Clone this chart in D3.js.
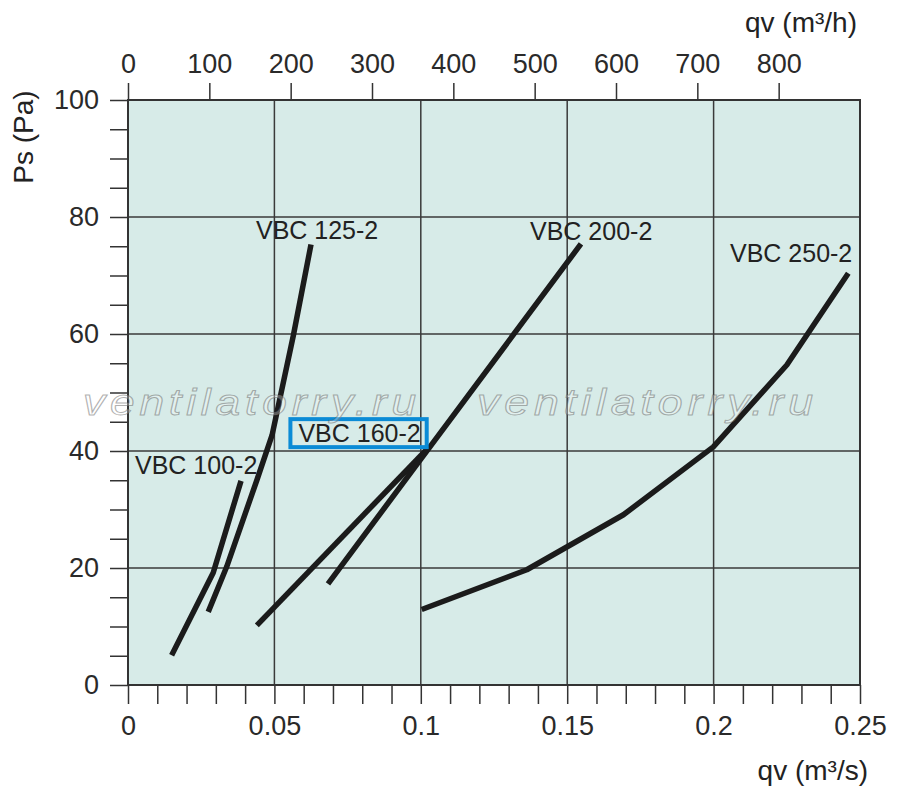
<!DOCTYPE html>
<html>
<head>
<meta charset="utf-8">
<script src="https://cdn.jsdelivr.net/npm/d3@7"></script>
<style>
  html, body { margin: 0; padding: 0; background: #fff; }
  svg text { font-family: "Liberation Sans", Arial, sans-serif; }
</style>
</head>
<body>
<div id="chart"></div>
<script>
'use strict';

// fan curves, flow in m3/s and static pressure in Pa
var vbc100 = [[0.0149, 5.1], [0.0291, 19.2], [0.0386, 34.9]];
var vbc125 = [[0.0274, 12.5], [0.0337, 20.2], [0.0440, 35.0], [0.0492, 42.7], [0.0565, 59.8], [0.0625, 75.3]];
var vbc160 = [[0.0440, 10.2], [0.1021, 40.3]];
var vbc200 = [[0.0683, 17.3], [0.1000, 38.6], [0.1547, 75.4]];
var vbc250 = [[0.1003, 12.9], [0.1362, 19.7], [0.1692, 29.1], [0.1999, 40.7], [0.2250, 54.7], [0.2460, 70.4]];

var curveNames = ['VBC 100-2', 'VBC 125-2', 'VBC 160-2', 'VBC 200-2', 'VBC 250-2'];
// label anchor (start of text, baseline) in data units
var labelX = [0.0024, 0.0437, 0.0582, 0.1373, 0.2056];
var labelY = [36.1, 76.2, 41.6, 76.0, 72.3];

var bottomTicks = [0, 0.05, 0.1, 0.15, 0.2, 0.25];
var leftTicks = [0, 20, 40, 60, 80, 100];
var topTicks = [0, 100, 200, 300, 400, 500, 600, 700, 800];

var width = 900, height = 805;
var plotLeft = 128, plotRight = 860, plotTop = 100, plotBottom = 685;

var svg = d3.select('#chart')
            .append('svg')
            .attr('width', width)
            .attr('height', height);

var x = d3.scaleLinear().domain([0, 0.25]).range([plotLeft, plotRight]);
var xh = d3.scaleLinear().domain([0, 900]).range([plotLeft, plotRight]);
var y = d3.scaleLinear().domain([0, 100]).range([plotBottom, plotTop]);

// plot background
svg.append('rect')
   .attr('x', plotLeft).attr('y', plotTop)
   .attr('width', plotRight - plotLeft).attr('height', plotBottom - plotTop)
   .attr('fill', '#d7ebe8');

// grid
var grid = svg.append('g')
              .attr('stroke', '#3a3a3a')
              .attr('stroke-width', 1.5);

grid.selectAll('.gx')
    .data(bottomTicks.slice(1, -1))
    .enter().append('line')
    .attr('x1', function(d) { return x(d); })
    .attr('x2', function(d) { return x(d); })
    .attr('y1', plotTop).attr('y2', plotBottom);

grid.selectAll('.gy')
    .data(leftTicks.slice(1, -1))
    .enter().append('line')
    .attr('x1', plotLeft).attr('x2', plotRight)
    .attr('y1', function(d) { return y(d); })
    .attr('y2', function(d) { return y(d); });

// axes
var fmtBottom = function(d) {
  var r = Math.round(d * 100);
  return r % 5 === 0 ? String(+d.toFixed(2)) : '';
};

var bottomAxis = d3.axisBottom(x)
                   .tickValues(d3.range(0, 26).map(function(i) { return i / 100; }))
                   .tickFormat(fmtBottom)
                   .tickSize(19).tickSizeOuter(0).tickPadding(12);

var leftAxis = d3.axisLeft(y)
                 .tickValues(d3.range(0, 21).map(function(i) { return i * 5; }))
                 .tickFormat(function(d) { return d % 20 === 0 ? d : ''; })
                 .tickSize(18).tickSizeOuter(0).tickPadding(11);

var topAxis = d3.axisTop(xh)
                .tickValues(topTicks)
                .tickSize(17).tickSizeOuter(0).tickPadding(10);

var styleAxis = function(g) {
  g.select('.domain').remove();
  g.selectAll('.tick line').attr('stroke', '#333').attr('stroke-width', 1.5);
  g.selectAll('.tick text')
   .attr('fill', '#2a2a2a')
   .style('font-size', '27px');
};

svg.append('g').attr('transform', 'translate(0,' + plotBottom + ')').call(bottomAxis).call(styleAxis);
svg.append('g').attr('transform', 'translate(' + plotLeft + ',0)').call(leftAxis).call(styleAxis);
svg.append('g').attr('transform', 'translate(0,' + plotTop + ')').call(topAxis).call(styleAxis);

// frame
svg.append('rect')
   .attr('x', plotLeft).attr('y', plotTop)
   .attr('width', plotRight - plotLeft).attr('height', plotBottom - plotTop)
   .attr('fill', 'none')
   .attr('stroke', '#333')
   .attr('stroke-width', 2);

// curves
var line = d3.line()
             .x(function(d) { return x(d[0]); })
             .y(function(d) { return y(d[1]); });

svg.append('g')
   .selectAll('path')
   .data([vbc100, vbc125, vbc160, vbc200, vbc250])
   .enter().append('path')
   .attr('d', line)
   .attr('fill', 'none')
   .attr('stroke', '#1b1b1b')
   .attr('stroke-width', 5.5)
   .attr('stroke-linejoin', 'round');

// curve labels
var labels = svg.append('g');
curveNames.forEach(function(name, i) {
  var t = labels.append('text')
                .attr('x', x(labelX[i]))
                .attr('y', y(labelY[i]))
                .attr('fill', '#222')
                .style('font-size', '25px')
                .text(name);
  if (name === 'VBC 160-2') {
    var bb = t.node().getBBox();
    labels.append('rect')
          .attr('x', bb.x - 8).attr('y', y(labelY[i]) - 22.5)
          .attr('width', bb.width + 14).attr('height', 28)
          .attr('fill', 'none')
          .attr('stroke', '#0b8bd6')
          .attr('stroke-width', 4);
  }
});

// axis titles
svg.append('text')
   .attr('transform', 'translate(33,137) rotate(-90)')
   .attr('text-anchor', 'middle')
   .attr('fill', '#222')
   .style('font-size', '28px')
   .text('Ps (Pa)');

svg.append('text')
   .attr('x', 857).attr('y', 32)
   .attr('text-anchor', 'end')
   .attr('fill', '#222')
   .style('font-size', '28px')
   .text('qv (m³/h)');

svg.append('text')
   .attr('x', 868).attr('y', 780)
   .attr('text-anchor', 'end')
   .attr('fill', '#222')
   .style('font-size', '28px')
   .text('qv (m³/s)');

// watermark, stretched outline text
[[83, 338], [477, 341]].forEach(function(w) {
  svg.append('text')
     .attr('x', w[0]).attr('y', 415)
     .attr('textLength', w[1])
     .attr('lengthAdjust', 'spacingAndGlyphs')
     .attr('fill', 'rgba(255,255,255,0.3)')
     .attr('stroke', 'rgba(100,100,100,0.5)')
     .attr('stroke-width', 1)
     .attr('letter-spacing', 4)
     .style('font-size', '36px')
     .style('font-style', 'italic')
     .text('ventilatorry.ru');
});
</script>
</body>
</html>
